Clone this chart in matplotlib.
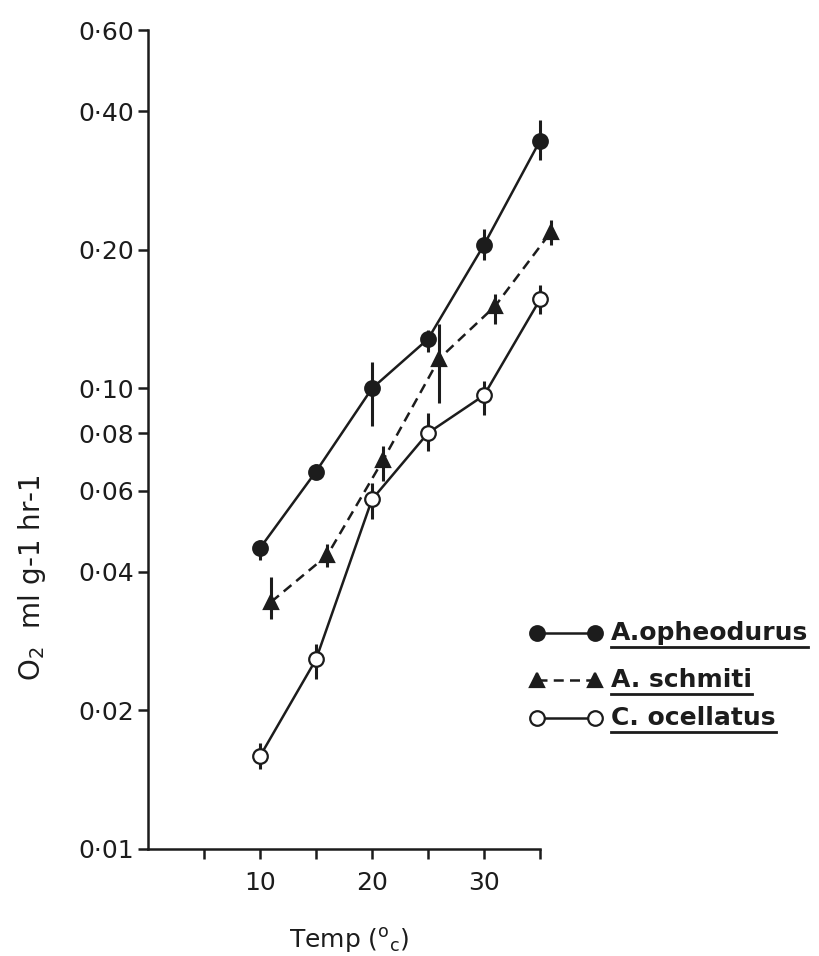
import matplotlib
matplotlib.use('Agg')
import matplotlib.pyplot as plt
import numpy as np

# --- data ---
x_oph = [10, 15, 20, 25, 30, 35]
y_oph = [0.045, 0.066, 0.100, 0.128, 0.205, 0.345]
lo_oph = [0.0425, 0.0635, 0.083, 0.120, 0.190, 0.313]
hi_oph = [0.0469, 0.0687, 0.114, 0.134, 0.222, 0.382]

x_sch = [11, 16, 21, 26, 31, 36]
y_sch = [0.0344, 0.0434, 0.070, 0.116, 0.151, 0.219]
lo_sch = [0.0316, 0.041, 0.063, 0.093, 0.138, 0.205]
hi_sch = [0.0389, 0.046, 0.075, 0.138, 0.160, 0.232]

x_oce = [10, 15, 20, 25, 30, 35]
y_oce = [0.0159, 0.0258, 0.0574, 0.080, 0.0966, 0.156]
lo_oce = [0.0149, 0.0234, 0.052, 0.073, 0.0875, 0.145]
hi_oce = [0.0170, 0.0279, 0.0624, 0.0883, 0.104, 0.168]

yticks = [0.01, 0.02, 0.04, 0.06, 0.08, 0.10, 0.20, 0.40, 0.60]
ytick_labels = ['0·01', '0·02', '0·04', '0·06', '0·08', '0·10', '0·20', '0·40', '0·60']
xticks = [5, 10, 15, 20, 25, 30, 35]
xtick_labels = ['', '10', '', '20', '', '30', '']

names = ['A.opheodurus', 'A. schmiti', 'C. ocellatus']

ink = '#1c1c1c'
plt.rcParams['font.family'] = ['DejaVu Sans']

fig = plt.figure(figsize=(8.19, 9.56), dpi=100)
ax = fig.add_axes([148 / 819, 1 - 849 / 956, 392 / 819, 819 / 956])
ax.set_yscale('log')
ax.set_xlim(0, 35)
ax.set_ylim(0.01, 0.60)

def series(x, y, lo, hi, marker, ls, mfc):
    y = np.array(y)
    err = [y - np.array(lo), np.array(hi) - y]
    ax.errorbar(x, y, yerr=err, fmt='none', ecolor=ink, elinewidth=2.2,
                capsize=0, clip_on=False, zorder=2)
    ax.plot(x, y, color=ink, lw=1.8, ls=ls, marker=marker, markersize=10.5,
            markerfacecolor=mfc, markeredgecolor=ink, markeredgewidth=1.6,
            clip_on=False, zorder=3)

series(x_oph, y_oph, lo_oph, hi_oph, 'o', '-', ink)
series(x_sch, y_sch, lo_sch, hi_sch, '^', (0, (4, 2.5)), ink)
series(x_oce, y_oce, lo_oce, hi_oce, 'o', '-', 'white')

for s in ['top', 'right']:
    ax.spines[s].set_visible(False)
for s in ['left', 'bottom']:
    ax.spines[s].set_linewidth(1.8)
    ax.spines[s].set_color(ink)

ax.minorticks_off()
ax.set_yticks(yticks)
ax.set_yticklabels(ytick_labels)
ax.set_xticks(xticks)
ax.set_xticklabels(xtick_labels)
ax.tick_params(axis='both', colors=ink, width=1.8, length=7, labelsize=18)
ax.tick_params(axis='x', pad=9)
ax.tick_params(axis='y', pad=3)

fig.text(349 / 819, 1 - 948 / 956, r'Temp ($^{\mathrm{o}}$$_{\mathrm{c}}$)',
         ha='center', va='baseline', fontsize=18, color=ink)
fig.text(32 / 819, 1 - 578 / 956, r'O$_2$  ml g-1 hr-1', rotation=90,
         ha='center', va='center', fontsize=20, color=ink)

# hand-drawn style legend with underlined names
leg_rows = [(633, 'o', '-', ink), (680, '^', (0, (4, 2.5)), ink), (718, 'o', '-', 'white')]
fig.canvas.draw()
r = fig.canvas.get_renderer()
for (py, mk, ls, mfc), name in zip(leg_rows, names):
    yf = 1 - py / 956
    fig.add_artist(plt.Line2D([537 / 819, 595 / 819], [yf, yf], color=ink, lw=1.8, ls=ls,
                              marker=mk, markersize=10.5, markerfacecolor=mfc,
                              markeredgecolor=ink, markeredgewidth=1.6))
    t = fig.text(611 / 819, yf, name, ha='left', va='center', fontsize=18,
                 fontweight='bold', color=ink)
    bb = t.get_window_extent(renderer=r).transformed(fig.transFigure.inverted())
    fig.add_artist(plt.Line2D([bb.x0, bb.x1], [bb.y0 - 0.002, bb.y0 - 0.002],
                              color=ink, lw=2))

fig.savefig('out.png', dpi=100, facecolor='white')
